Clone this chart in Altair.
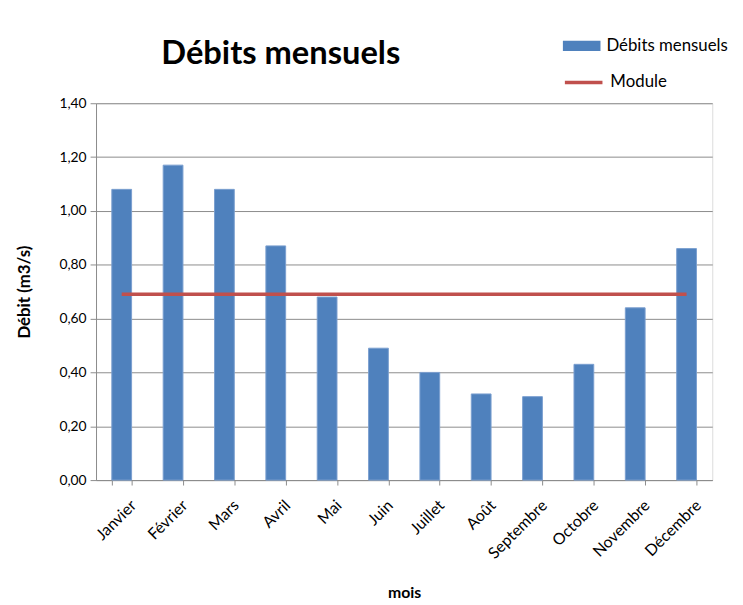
import altair as alt
import pandas as pd

mois = ["Janvier", "Février", "Mars", "Avril", "Mai", "Juin", "Juillet",
        "Août", "Septembre", "Octobre", "Novembre", "Décembre"]
debits = [1.08, 1.17, 1.08, 0.87, 0.68, 0.49, 0.40, 0.32, 0.31, 0.43, 0.64, 0.86]
module = [0.69] * 12
y_ticks = [0.0, 0.2, 0.4, 0.6, 0.8, 1.0, 1.2, 1.4]

df = pd.DataFrame({
    "mois": mois,
    "debit": debits,
    "module": module,
    "s_bar": ["Débits mensuels"] * 12,
    "s_line": ["Module"] * 12,
})

FONT = "Lato"
GRID = "#8c8c8c"

x_enc = alt.X(
    "mois:N", sort=mois, title="mois",
    scale=alt.Scale(paddingInner=0.615, paddingOuter=0.3075),
    axis=alt.Axis(labelAngle=-45, tickBand="extent", tickSize=5, tickColor=GRID,
                  domainColor=GRID, labelFontSize=16, labelColor="black",
                  labelFont=FONT, labelPadding=12, labelOffset=6,
                  titleFont=FONT, titleFontSize=16,
                  titleFontWeight="bold", titleColor="black", titlePadding=24,
                  grid=False),
)
y_enc = alt.Y(
    "debit:Q", title="Débit (m3/s)",
    scale=alt.Scale(domain=[0, 1.4], nice=False),
    axis=alt.Axis(values=y_ticks,
                  labelExpr="replace(format(datum.value, '.2f'), '.', ',')",
                  grid=True, gridColor=GRID, tickColor=GRID, domainColor=GRID,
                  tickSize=6, labelFontSize=14, labelColor="black", labelFont=FONT,
                  labelPadding=4, titleFont=FONT, titleFontSize=17,
                  titleFontWeight="bold", titleColor="black", titlePadding=26),
)

bars = alt.Chart(df).mark_bar(stroke="#7A9FCF", strokeWidth=1).encode(
    x=x_enc,
    y=y_enc,
    fill=alt.Fill("s_bar:N", scale=alt.Scale(range=["#4F81BD"]),
                  legend=alt.Legend(orient="none", legendX=472, legendY=-77, title=None,
                                    symbolType="M-1,-0.27H1V0.27H-1Z", symbolSize=1444,
                                    symbolStrokeWidth=0, symbolOpacity=1,
                                    labelFont=FONT, labelFontSize=17, labelColor="black",
                                    labelOffset=6)),
)

line = alt.Chart(df).mark_line(strokeWidth=3.5).encode(
    x=alt.X("mois:N", sort=mois),
    y=alt.Y("module:Q"),
    stroke=alt.Stroke("s_line:N", scale=alt.Scale(range=["#C0504D"]),
                      legend=alt.Legend(orient="none", legendX=472, legendY=-42, title=None,
                                        symbolType="stroke", symbolSize=1444,
                                        symbolStrokeWidth=3.5, symbolOpacity=1,
                                        labelFont=FONT, labelFontSize=17, labelColor="black",
                                        labelOffset=6)),
)

chart = alt.layer(bars, line).resolve_scale(fill="independent", stroke="independent").properties(
    width=623,
    height=381,
    title=alt.Title("Débits mensuels", anchor="start", dx=66, fontSize=33,
                    fontWeight="bold", font=FONT, color="black", offset=-44,
                    frame="group"),
    autosize=alt.AutoSizeParams(type="none"),
    padding={"left": 89, "top": 93, "right": 23, "bottom": 123},
).configure_view(stroke=None).configure(background="white")

chart.save("out.html", embed_options={"renderer": "svg", "actions": False})
